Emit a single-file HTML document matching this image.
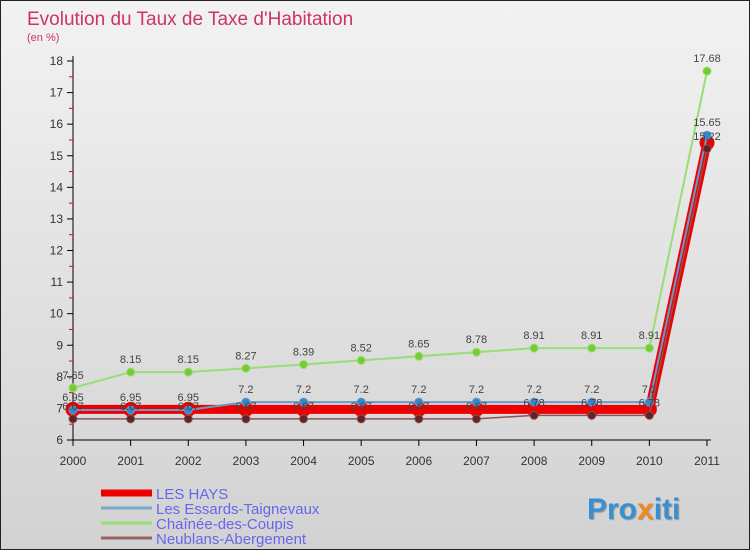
<!DOCTYPE html>
<html><head><meta charset="utf-8"><style>
body{margin:0;width:750px;height:550px;overflow:hidden;font-family:"Liberation Sans",sans-serif}
#wrap{position:relative;width:748px;height:548px;border:1px solid #222;background:linear-gradient(#f2f2f2,#d2d2d2)}
</style></head><body>
<div id="wrap">
<svg id="chart" width="748" height="548">
<text x="26" y="24" font-size="19" fill="#cc3366">Evolution du Taux de Taxe d'Habitation</text>
<text x="26" y="40" font-size="11" fill="#cc3366">(en %)</text>
<g id="axes"></g><g id="series"></g><g id="legend"></g>
<text x="586" y="518" font-size="30" font-weight="bold" fill="#3a8fd0" style="text-shadow:1px 1px 1px #999">Pro<tspan fill="#f08a1c">x</tspan>iti</text>
</svg></div>
<script>
const years=["2000","2001","2002","2003","2004","2005","2006","2007","2008","2009","2010","2011"];
const yTicks=[6,7,8,9,10,11,12,13,14,15,16,17,18];
const names=["LES HAYS","Les Essards-Taignevaux","Chaînée-des-Coupis","Neublans-Abergement"];
const hays=[6.97,6.97,6.97,6.97,6.97,6.97,6.97,6.97,6.97,6.97,6.97,15.41];
const essards=[6.95,6.95,6.95,7.2,7.2,7.2,7.2,7.2,7.2,7.2,7.2,15.65];
const chainee=[7.65,8.15,8.15,8.27,8.39,8.52,8.65,8.78,8.91,8.91,8.91,17.68];
const neublans=[6.67,6.67,6.67,6.67,6.67,6.67,6.67,6.67,6.78,6.78,6.78,15.22];
const ns="http://www.w3.org/2000/svg";
const X=i=>72+i*(634/11), Y=v=>439-(v-6)*(379/12);
function mk(t,a,p){const e=document.createElementNS(ns,t);for(const k in a)e.setAttribute(k,a[k]);p.appendChild(e);return e;}
const ax=document.getElementById('axes');
let a=mk('line',{x1:72,y1:55,x2:72,y2:439,stroke:'#000'},ax);

a=mk('line',{x1:72,y1:439,x2:710,y2:439,stroke:'#000'},ax);

yTicks.forEach(v=>{mk('line',{x1:66,y1:Y(v),x2:72,y2:Y(v),stroke:'#000'},ax);
 if(v<18)mk('line',{x1:68,y1:Y(v+0.5),x2:72,y2:Y(v+0.5),stroke:'#e00'},ax);
 const t=mk('text',{x:62,y:Y(v)+4,'font-size':12,'text-anchor':'end',fill:'#333'},ax);t.textContent=v;
 });
years.forEach((y,i)=>{mk('line',{x1:X(i),y1:439,x2:X(i),y2:445,stroke:'#000'},ax);
 const t=mk('text',{x:X(i),y:464,'font-size':12,'text-anchor':'middle',fill:'#333'},ax);t.textContent=y;
 });
const sg=document.getElementById('series');
function series(d,col,w,r,dot,name,lbl){
 const g=mk('g',{},sg);
 mk('polyline',{points:d.map((v,i)=>X(i)+','+Y(v)).join(' '),fill:'none',stroke:col,'stroke-width':w},g);
 d.forEach((v,i)=>{const c=mk('circle',{cx:X(i),cy:Y(v),r:r,fill:dot,stroke:col},g);
  
  if(lbl){const t=mk('text',{x:X(i),y:Y(v)-9,'font-size':11,'text-anchor':'middle',fill:'#444'},g);t.textContent=String(v);
  }});
}
series(chainee,'#99dd77',2,4,'#77cc33','series-chainee',true);
series(hays,'#ee0000',9,7,'#ee0000','series-les-hays',false);
series(essards,'#6699cc',2,4,'#3388cc','series-essards',true);
series(neublans,'#885555',1.5,4,'#662222','series-neublans',true);
const lg=document.getElementById('legend');
const lc=['#ee0000','#77a8cc','#99dd77','#996666'],lw=[7,3,3,3];
names.forEach((n,i)=>{const y=492+i*15;
 const l=mk('line',{x1:100,y1:y,x2:151,y2:y,stroke:lc[i],'stroke-width':lw[i]},lg);
 
 const t=mk('text',{x:155,y:y+6,'font-size':15,fill:'#6666ee'},lg);t.textContent=n;
 });
</script>
</body></html>
